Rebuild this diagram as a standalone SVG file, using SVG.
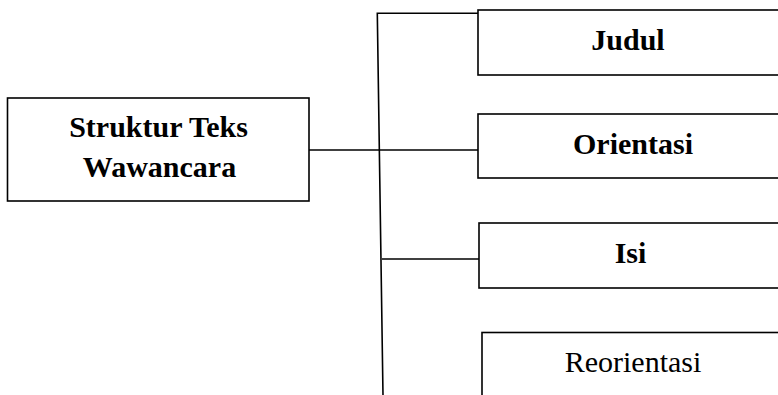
<svg xmlns="http://www.w3.org/2000/svg" width="778" height="395" viewBox="0 0 778 395">
<style>
.box{fill:#fff;stroke:#000;stroke-width:1.6}
.t{font-family:"Liberation Serif","Times New Roman",serif;font-size:30px;fill:#000;text-anchor:middle}
.b{font-weight:bold}
.c{fill:none;stroke:#000;stroke-width:1.6}
</style>
<rect width="778" height="395" fill="#fff"/>
<g id="connectors">
<polyline class="c" points="478,13.3 377.3,13.3 383,395"/>
<line class="c" x1="309" y1="150" x2="478" y2="150"/>
<line class="c" x1="382" y1="259" x2="479" y2="259"/>
</g>
<g id="node-struktur">
<rect class="box" x="7.5" y="98" width="301.5" height="103"/>
<text class="t b" x="158.5" y="137">Struktur Teks</text>
<text class="t b" x="159.5" y="177">Wawancara</text>
</g>
<g id="node-judul">
<rect class="box" x="478" y="10" width="320" height="65"/>
<text class="t b" x="628" y="49.5">Judul</text>
</g>
<g id="node-orientasi">
<rect class="box" x="478" y="114" width="320" height="64"/>
<text class="t b" x="633" y="154">Orientasi</text>
</g>
<g id="node-isi">
<rect class="box" x="479" y="223" width="320" height="65"/>
<text class="t b" x="630.5" y="263">Isi</text>
</g>
<g id="node-reorientasi">
<rect class="box" x="482" y="332.5" width="320" height="80"/>
<text class="t" x="633" y="372">Reorientasi</text>
</g>
</svg>
